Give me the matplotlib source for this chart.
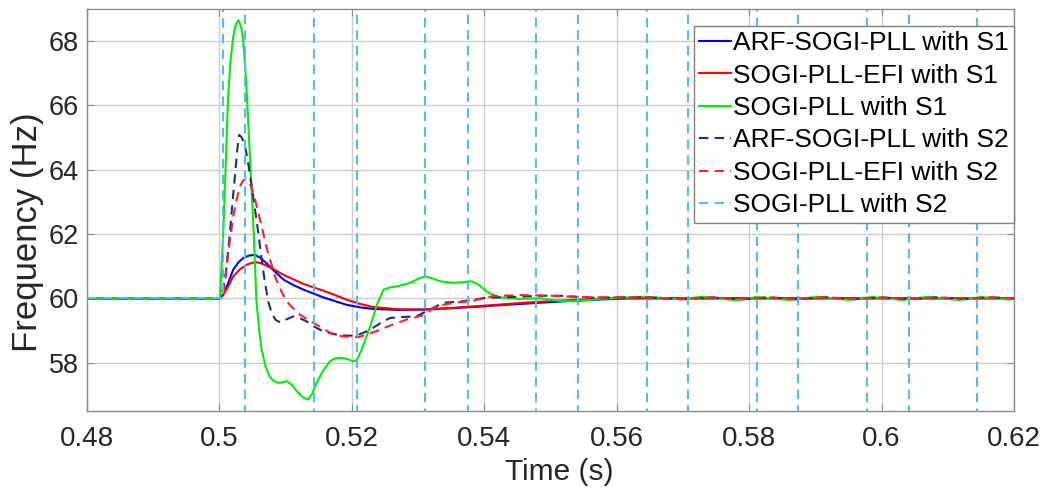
import numpy as np
import matplotlib.pyplot as plt

plt.rcParams['font.family'] = ['Liberation Sans', 'DejaVu Sans']

# -----------------------------
# Data
# -----------------------------
# ARF-SOGI-PLL with S1 (solid blue)
arf_s1_t = [0.48, 0.5000, 0.5006, 0.5013, 0.5021, 0.5029, 0.5036, 0.5045, 0.5054,
            0.5062, 0.5071, 0.5084, 0.5097, 0.5112, 0.5127, 0.5142, 0.5157, 0.5175,
            0.5192, 0.5212, 0.5232, 0.5270, 0.5308, 0.5346, 0.5384, 0.5420, 0.5459,
            0.5515, 0.5560, 0.5620, 0.62]
arf_s1_f = [60.0, 60.0, 60.12, 60.45, 60.89, 61.12, 61.25, 61.33, 61.35,
            61.26, 61.10, 60.83, 60.58, 60.41, 60.27, 60.15, 60.03, 59.91,
            59.80, 59.72, 59.67, 59.64, 59.65, 59.69, 59.73, 59.78, 59.83,
            59.90, 59.95, 60.0, 60.0]

# SOGI-PLL-EFI with S1 (solid red)
efi_s1_t = [0.48, 0.5000, 0.5006, 0.5013, 0.5021, 0.5031, 0.5041, 0.5049, 0.5056,
            0.5063, 0.5071, 0.5084, 0.5097, 0.5112, 0.5127, 0.5142, 0.5157, 0.5175,
            0.5192, 0.5212, 0.5232, 0.5270, 0.5308, 0.5346, 0.5384, 0.5420, 0.5459,
            0.5515, 0.5560, 0.5620, 0.62]
efi_s1_f = [60.0, 60.0, 60.10, 60.35, 60.68, 60.90, 61.04, 61.10, 61.12,
            61.09, 61.02, 60.88, 60.73, 60.59, 60.45, 60.34, 60.24, 60.10,
            59.96, 59.83, 59.73, 59.66, 59.65, 59.69, 59.75, 59.80, 59.86,
            59.93, 59.97, 60.0, 60.0]

# SOGI-PLL with S1 (solid green)
sogi_s1_t = [0.48, 0.5001, 0.5006, 0.5010, 0.5013, 0.5017, 0.5021, 0.5025, 0.5029,
             0.5033, 0.5036, 0.5039, 0.5042, 0.5047, 0.5052, 0.5056, 0.5060, 0.5064,
             0.5070, 0.5076, 0.5082, 0.5089, 0.5095, 0.5102, 0.5109, 0.5117, 0.5126,
             0.5134, 0.5140, 0.5147, 0.5157, 0.5167, 0.5175, 0.5182, 0.5192, 0.5202,
             0.5208, 0.5215, 0.5222, 0.5228, 0.5238, 0.5248, 0.5258, 0.5268, 0.5288,
             0.5300, 0.5311, 0.5322, 0.5333, 0.5353, 0.5368, 0.5381, 0.5393, 0.5404,
             0.5414, 0.5424, 0.5454, 0.5484, 0.5514, 0.5540, 0.5585, 0.5645, 0.5696,
             0.5731, 0.5781, 0.5811, 0.5859, 0.5905, 0.5950, 0.5985, 0.6031, 0.6071,
             0.6116, 0.6151, 0.6192, 0.62]
sogi_s1_f = [60.0, 60.0, 62.03, 64.30, 66.17, 67.40, 68.13, 68.52, 68.65,
             68.45, 68.03, 67.25, 66.17, 64.10, 62.03, 59.96, 59.05, 58.40,
             57.88, 57.57, 57.43, 57.37, 57.39, 57.42, 57.32, 57.11, 56.93,
             56.85, 57.02, 57.38, 57.75, 58.04, 58.13, 58.15, 58.12, 58.04,
             58.08, 58.40, 58.80, 59.13, 59.80, 60.27, 60.34, 60.37, 60.48,
             60.60, 60.68, 60.62, 60.53, 60.48, 60.50, 60.53, 60.40, 60.21,
             60.10, 60.03, 59.98, 60.0, 59.92, 59.91, 60.0, 60.05, 59.97,
             60.05, 59.94, 60.04, 59.95, 60.05, 59.95, 60.04, 59.95, 60.05,
             59.95, 60.04, 59.96, 59.98]

# ARF-SOGI-PLL with S2 (dashed navy)
arf_s2_t = [0.48, 0.5003, 0.5010, 0.5016, 0.5020, 0.5024, 0.5027, 0.5030, 0.5034,
            0.5039, 0.5044, 0.5049, 0.5054, 0.5059, 0.5064, 0.5069, 0.5074, 0.5079,
            0.5085, 0.5092, 0.5102, 0.5112, 0.5122, 0.5132, 0.5145, 0.5157, 0.5177,
            0.5192, 0.5207, 0.5220, 0.5232, 0.5245, 0.5258, 0.5278, 0.5298, 0.5318,
            0.5338, 0.5368, 0.5404, 0.5429, 0.5484, 0.5514, 0.5560, 0.5645, 0.5700,
            0.5740, 0.5790, 0.5830, 0.5870, 0.5915, 0.5960, 0.6000, 0.6040, 0.6085,
            0.6125, 0.6165, 0.62]
arf_s2_f = [60.0, 60.0, 60.80, 62.03, 63.00, 63.89, 64.60, 65.08, 65.00,
            64.72, 64.15, 63.48, 62.75, 62.03, 61.20, 60.48, 59.90, 59.54,
            59.33, 59.25, 59.35, 59.44, 59.38, 59.28, 59.10, 58.97, 58.87,
            58.84, 58.84, 58.95, 59.08, 59.25, 59.39, 59.42, 59.44, 59.65,
            59.86, 59.91, 60.02, 60.03, 60.08, 60.08, 60.02, 60.03, 59.97,
            60.03, 59.97, 60.03, 59.97, 60.03, 59.97, 60.03, 59.97, 60.03,
            59.97, 60.03, 60.0]

# SOGI-PLL-EFI with S2 (dashed red)
efi_s2_t = [0.48, 0.5006, 0.5013, 0.5021, 0.5026, 0.5031, 0.5036, 0.5040, 0.5045,
            0.5049, 0.5054, 0.5059, 0.5065, 0.5071, 0.5078, 0.5084, 0.5093, 0.5102,
            0.5112, 0.5122, 0.5135, 0.5147, 0.5160, 0.5172, 0.5185, 0.5195, 0.5212,
            0.5232, 0.5258, 0.5283, 0.5306, 0.5328, 0.5353, 0.5380, 0.5414, 0.5454,
            0.5500, 0.5560, 0.5645, 0.5700, 0.5740, 0.5790, 0.5830, 0.5870, 0.5915,
            0.5960, 0.6000, 0.6040, 0.6085, 0.6125, 0.6165, 0.62]
efi_s2_f = [60.0, 60.0, 61.30, 62.54, 63.05, 63.48, 63.66, 63.70, 63.62,
            63.43, 63.08, 62.65, 62.15, 61.61, 61.12, 60.68, 60.25, 59.90,
            59.68, 59.49, 59.32, 59.18, 59.02, 58.87, 58.82, 58.80, 58.80,
            58.94, 59.15, 59.34, 59.46, 59.75, 59.86, 59.91, 60.07, 60.10,
            60.08, 60.03, 60.03, 59.98, 60.03, 59.98, 60.03, 59.98, 60.03,
            59.98, 60.03, 59.98, 60.03, 59.98, 60.03, 60.0]

# SOGI-PLL with S2 (dashed light blue) - swings far off scale at each crossing
sogi_s2_cross = [0.5005, 0.5039, 0.5143, 0.5208, 0.5311, 0.5376, 0.5478, 0.5542,
                 0.5646, 0.5708, 0.5812, 0.5874, 0.5978, 0.6042, 0.6144]
sogi_s2_high = 120.0
sogi_s2_low = 0.0

sogi_s2_t = [0.48]
sogi_s2_f = [60.0]
level = 60.0
for i, tc in enumerate(sogi_s2_cross):
    nxt = sogi_s2_high if i % 2 == 0 else sogi_s2_low
    sogi_s2_t += [tc, tc]
    sogi_s2_f += [level, nxt]
    level = nxt
sogi_s2_t.append(0.62)
sogi_s2_f.append(level)

xticks = [0.48, 0.5, 0.52, 0.54, 0.56, 0.58, 0.6, 0.62]
xticklabels = ['0.48', '0.5', '0.52', '0.54', '0.56', '0.58', '0.6', '0.62']
yticks = [58, 60, 62, 64, 66, 68]

# -----------------------------
# Plot
# -----------------------------
fig = plt.figure(figsize=(10.59, 4.95), dpi=100)
ax = fig.add_axes([0.082, 0.170, 0.8755, 0.812])

lw = 1.5
dash = (4.5, 3)
ax.plot(arf_s1_t, arf_s1_f, color='#0000ff', lw=lw, label='ARF-SOGI-PLL with S1')
ax.plot(efi_s1_t, efi_s1_f, color='#ff0000', lw=lw, label='SOGI-PLL-EFI with S1')
ax.plot(sogi_s1_t, sogi_s1_f, color='#00ee00', lw=lw, label='SOGI-PLL with S1')
ax.plot(arf_s2_t, arf_s2_f, color='#1f2d80', lw=lw, ls=(0, dash), label='ARF-SOGI-PLL with S2')
ax.plot(efi_s2_t, efi_s2_f, color='#ff2020', lw=lw, ls=(0, dash), label='SOGI-PLL-EFI with S2')
ax.plot(sogi_s2_t, sogi_s2_f, color='#4dbeee', lw=lw, ls=(0, dash), label='SOGI-PLL with S2')

ax.set_xlim(0.48, 0.62)
ax.set_ylim(56.5, 69.0)
ax.set_xticks(xticks)
ax.set_xticklabels(xticklabels)
ax.set_yticks(yticks)

ax.grid(True, color='#cccccc', lw=1)
ax.set_axisbelow(True)
for s in ax.spines.values():
    s.set_color('#8c8c8c')
    s.set_linewidth(1)
ax.tick_params(direction='in', length=5, color='#8c8c8c', top=True, right=True,
               labelcolor='#262626')
ax.tick_params(axis='x', labelsize=20, pad=11)
ax.tick_params(axis='y', labelsize=19.5, pad=6)

ax.set_xlabel('Time (s)', fontsize=21.5, color='#262626')
ax.set_ylabel('Frequency (Hz)', fontsize=25, color='#262626')
ax.xaxis.set_label_coords(0.51, -0.118)
ax.yaxis.set_label_coords(-0.046, 0.445)

leg = ax.legend(loc='upper right', bbox_to_anchor=(1.0, 0.958), borderaxespad=0,
                fontsize=19, handlelength=1.2, handletextpad=0.08, labelspacing=0.32,
                borderpad=0.2, fancybox=False, framealpha=1, edgecolor='#808080')
leg.get_frame().set_linewidth(1)

plt.savefig('out.png', dpi=100)
